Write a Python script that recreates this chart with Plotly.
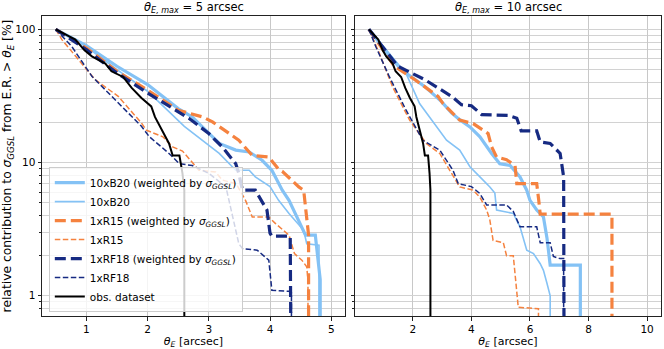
import plotly.graph_objects as go

# ---------------- data (theta_E [arcsec], relative contribution [%]) ----------------
# left panel: theta_E,max = 5 arcsec
b20w_x5 = [0.5, 1.0, 1.5, 2.0, 2.5, 2.73, 3.17, 3.44, 3.66, 3.87, 4.03, 4.2, 4.31, 4.36, 4.58, 4.74, 4.82, 4.82]
b20w_y5 = [100, 75.5, 52.8, 38.5, 25.4, 22.0, 13.9, 12.4, 12.0, 10.4, 8.75, 6.2, 5.2, 4.65, 2.85, 2.85, 1.32, 0.1]
b20_x5 = [0.5, 1.0, 1.5, 2.0, 2.6, 2.68, 3.17, 3.44, 3.66, 3.76, 4.0, 4.14, 4.31, 4.55, 4.6, 4.8, 4.8]
b20_y5 = [100, 74, 49.9, 34.3, 18.7, 17.5, 11.7, 8.75, 8.75, 7.8, 6.6, 5.2, 4.15, 3.1, 2.46, 2.4, 0.1]
r15w_x5 = [0.5, 1.0, 1.5, 2.0, 2.5, 2.9, 3.06, 3.49, 3.71, 3.98, 4.14, 4.2, 4.47, 4.55, 4.63, 4.63]
r15w_y5 = [100, 72.4, 48.4, 34.9, 24.7, 22.0, 20.2, 14.7, 11.3, 11.0, 8.9, 8.6, 6.56, 6.2, 2.85, 0.1]
r15_x5 = [0.5, 0.6, 1.14, 1.52, 1.9, 1.98, 2.25, 2.41, 2.57, 2.84, 3.11, 3.22, 3.45, 3.6, 3.71, 3.98, 4.09, 4.31, 4.4, 4.52, 4.6, 4.62, 4.62]
r15_y5 = [100, 83.7, 42, 31.4, 19.8, 17.5, 15.6, 13.1, 12.2, 8.75, 8.5, 7.4, 6.9, 5.2, 3.9, 3.9, 3.48, 2.85, 2.07, 1.85, 1.65, 1.3, 0.1]
rf18w_x5 = [0.5, 1.0, 1.5, 2.0, 2.68, 3.0, 3.22, 3.44, 3.49, 3.55, 3.76, 3.95, 4.0, 4.03, 4.33, 4.35]
rf18w_y5 = [100, 70.4, 47, 33.3, 21.4, 16.5, 13.1, 9.8, 8.3, 6.2, 6.2, 4.4, 2.95, 2.8, 2.8, 0.1]
rf18_x5 = [0.5, 0.76, 1.09, 1.57, 1.9, 2.03, 2.35, 2.52, 2.73, 3.0, 3.28, 3.49, 3.55, 3.79, 3.98, 4.03, 4.31, 4.35, 4.35]
rf18_y5 = [100, 74.5, 44.4, 26.4, 18.7, 15.6, 11.7, 9.8, 9.5, 8.3, 6.56, 2.46, 2.26, 2.2, 1.85, 1.1, 1.08, 1.05, 0.1]

# right panel: theta_E,max = 10 arcsec
b20w_x10 = [0.5, 1.0, 1.6, 2.4, 2.97, 3.32, 3.6, 3.95, 4.29, 4.69, 4.97, 5.32, 5.66, 5.89, 6.0, 6.23, 6.46, 6.58, 6.69, 7.72, 7.72]
b20w_y10 = [100, 72, 49.9, 37.3, 28.8, 23.6, 21.0, 18.5, 15.6, 11.7, 9.8, 9.5, 7.8, 6.2, 5.2, 4.4, 3.9, 2.72, 1.7, 1.7, 0.1]
b20_x10 = [0.5, 1.0, 1.49, 1.77, 2.23, 2.8, 3.15, 3.6, 3.95, 4.29, 4.63, 4.8, 4.86, 5.43, 5.66, 5.89, 6.12, 6.35, 6.46, 6.58, 6.69, 6.69]
b20_y10 = [100, 74, 56, 46.5, 27.7, 18.5, 14.7, 12.4, 9.3, 7.8, 6.56, 5.9, 4.4, 4.15, 3.29, 2.2, 2.07, 1.74, 1.55, 1.24, 1.0, 0.1]
r15w_x10 = [0.5, 1.37, 2.06, 2.86, 3.03, 3.43, 3.6, 4.06, 4.57, 4.69, 4.86, 5.2, 5.49, 5.55, 6.23, 6.3, 6.35, 8.8, 8.8]
r15w_y10 = [100, 52.8, 42, 31.4, 27.7, 22.5, 20.8, 19.6, 16.5, 13.1, 11.0, 10.5, 9.5, 6.95, 6.95, 5.2, 4.1, 4.1, 0.1]
r15_x10 = [0.5, 0.86, 1.31, 1.89, 2.46, 2.92, 3.26, 3.6, 4.06, 4.29, 4.52, 4.63, 4.74, 5.09, 5.2, 5.43, 5.6, 6.23, 6.29, 6.29]
r15_y10 = [100, 65.7, 36.9, 20.8, 13.9, 11.7, 8.75, 6.56, 6.2, 5.5, 4.4, 3.7, 2.6, 2.5, 2.0, 2.0, 0.82, 0.8, 0.8, 0.1]
rf18w_x10 = [0.5, 1.49, 2.4, 3.32, 3.66, 4.0, 4.35, 5.26, 5.55, 5.7, 6.23, 6.35, 6.69, 7.03, 7.15, 7.17]
rf18w_y10 = [100, 52.8, 42, 31.4, 27.2, 26.7, 22.9, 22.6, 21.5, 17.3, 17.3, 14.3, 13.9, 11.7, 7.8, 0.1]
rf18_x10 = [0.5, 0.74, 1.2, 1.77, 2.34, 2.92, 3.37, 3.55, 4.0, 4.29, 4.52, 5.2, 5.43, 5.66, 6.23, 6.35, 6.69, 6.8, 7.03, 7.15, 7.15]
rf18_y10 = [100, 73.6, 43.9, 24.7, 14.7, 12.4, 8.75, 6.95, 6.6, 5.85, 4.8, 4.8, 4.3, 3.29, 3.29, 2.5, 2.5, 1.97, 1.9, 1.9, 0.1]

# observed dataset (same in both panels)
obs_x = [0.5, 0.65, 0.82, 0.97, 1.09, 1.31, 1.41, 1.6, 1.74, 1.9, 2.06, 2.12, 2.2, 2.35, 2.41, 2.52, 2.57, 2.6, 2.6]
obs_y = [100, 92, 83.7, 69.5, 62.7, 55.3, 48.4, 43.9, 36.3, 30.5, 26.4, 22, 18.7, 13.9, 11.3, 11.3, 8.3, 6.2, 0.1]

panel_titles = ["<i>θ</i><sub><i>E, max</i></sub> = 5 arcsec", "<i>θ</i><sub><i>E, max</i></sub> = 10 arcsec"]
sig = "<i>σ</i><sub><i>GGSL</i></sub>"
names = ["10xB20 (weighted by " + sig + ")", "10xB20",
         "1xR15 (weighted by " + sig + ")", "1xR15",
         "1xRF18 (weighted by " + sig + ")", "1xRF18", "obs. dataset"]

# ---------------- styles ----------------
BLUE = "#84c2f5"
ORANGE = "#f5823f"
NAVY = "#162a82"
styles = [
    dict(color=BLUE, width=3.2, dash="solid"),
    dict(color=BLUE, width=1.6, dash="solid"),
    dict(color=ORANGE, width=3.2, dash="11px,5px"),
    dict(color=ORANGE, width=1.5, dash="5.5px,2.5px"),
    dict(color=NAVY, width=3.2, dash="11px,5px"),
    dict(color=NAVY, width=1.5, dash="5.5px,2.5px"),
    dict(color="black", width=2.0, dash="solid"),
]

panels = [
    [(b20w_x5, b20w_y5), (b20_x5, b20_y5), (r15w_x5, r15w_y5), (r15_x5, r15_y5),
     (rf18w_x5, rf18w_y5), (rf18_x5, rf18_y5), (obs_x, obs_y)],
    [(b20w_x10, b20w_y10), (b20_x10, b20_y10), (r15w_x10, r15w_y10), (r15_x10, r15_y10),
     (rf18w_x10, rf18w_y10), (rf18_x10, rf18_y10), (obs_x, obs_y)],
]

fig = go.Figure()
for p, series in enumerate(panels):
    xa = "x" if p == 0 else "x2"
    ya = "y" if p == 0 else "y2"
    for i, (xs, ys) in enumerate(series):
        fig.add_trace(go.Scatter(x=xs, y=ys, mode="lines", name=names[i],
                                 line=styles[i], xaxis=xa, yaxis=ya,
                                 showlegend=(p == 0), legendrank=i + 1))

FONT = "DejaVu Sans"
GRID = "#d2d2d2"
minor_vals = [0.8, 0.9, 2, 3, 4, 5, 6, 7, 8, 9, 20, 30, 40, 50, 60, 70, 80, 90]

common_x = dict(showline=True, linecolor="#222", linewidth=1, mirror=True, automargin=False,
                ticks="outside", ticklen=3.5, tickcolor="#222",
                showgrid=True, gridcolor="#c8c8c8", gridwidth=1, zeroline=False,
                tickfont=dict(family=FONT, size=10.5, color="black"),
                title=dict(text="<i>θ</i><sub><i>E</i></sub> [arcsec]",
                           font=dict(family=FONT, size=11, color="black"), standoff=2))
common_y = dict(type="log", range=[-0.152, 2.1], showline=True, linecolor="#222", linewidth=1,
                mirror=True, ticks="outside", ticklen=3.5, tickcolor="#222", automargin=False,
                tickvals=[1, 10, 100], showgrid=True, gridcolor=GRID, gridwidth=1, zeroline=False,
                minor=dict(tickvals=minor_vals, ticks="outside", ticklen=2, tickcolor="#222",
                           showgrid=True, gridcolor=GRID, gridwidth=1),
                tickfont=dict(family=FONT, size=10.5, color="black"))

fig.update_layout(
    width=664, height=349,
    margin=dict(l=42, r=3, t=16, b=33),
    paper_bgcolor="white", plot_bgcolor="white",
    font=dict(family=FONT, size=10, color="black"),
    xaxis=dict(domain=[0, 0.4895], range=[0.275, 5.225], tickvals=[1, 2, 3, 4, 5], **common_x),
    xaxis2=dict(domain=[0.5057, 1], range=[0.025, 10.475], tickvals=[2, 4, 6, 8, 10], **common_x),
    yaxis=dict(anchor="x", ticktext=["1", "10", "100"],
               title=dict(text="relative contribution to " + sig + " from E.R. &gt; <i>θ</i><sub><i>E</i></sub> [%]",
                          font=dict(family=FONT, size=12.3, color="black"), standoff=3),
               **common_y),
    yaxis2=dict(anchor="x2", matches="y", showticklabels=False, **common_y),
    legend=dict(x=0.011, y=0.013, xanchor="left", yanchor="bottom",
                bgcolor="rgba(255,255,255,0.8)", bordercolor="#cccccc", borderwidth=1,
                font=dict(family=FONT, size=10.5, color="black"),
                tracegroupgap=0, itemwidth=30),
    annotations=[
        dict(text=panel_titles[0], x=0.4895 / 2, y=1, xref="paper", yref="paper",
             xanchor="center", yanchor="bottom", showarrow=False, yshift=-1,
             font=dict(family=FONT, size=11.5, color="black")),
        dict(text=panel_titles[1], x=(0.5057 + 1) / 2, y=1, xref="paper", yref="paper",
             xanchor="center", yanchor="bottom", showarrow=False, yshift=-1,
             font=dict(family=FONT, size=11.5, color="black")),
    ],
)

fig.write_html("out.html", config={"displayModeBar": False},
               post_script="document.body.style.margin='0';document.body.style.overflow='hidden';")
